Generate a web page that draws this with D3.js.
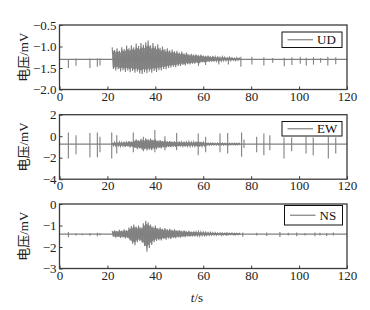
<!DOCTYPE html>
<html>
<head>
<meta charset="utf-8">
<script src="https://cdn.jsdelivr.net/npm/d3@7"></script>
<style>
  body { margin: 0; background: #fff; }
  svg text { font-family: "Liberation Serif", "Times New Roman", "Noto Sans CJK SC", serif; }
</style>
</head>
<body>
<svg id="chart" width="370" height="310"></svg>
<script>
// time axis
const xTicks = [0, 20, 40, 60, 80, 100, 120];
const burstTimes = d3.range(22, 76);   // 22 .. 75 s, one sample per second

// UD channel
const udBase = -1.3;
const udTicks = [-2.0, -1.5, -1.0, -0.5];
const udUpper = [-1.02, -1.08, -1.04, -1.10, -1.02, -1.06, -0.98, -1.04, -0.97, -1.02,
  -0.93, -0.99, -0.92, -0.96, -0.90, -0.86, -0.97, -0.92, -0.99, -0.95,
  -1.03, -1.00, -1.06, -1.04, -1.09, -1.07, -1.11, -1.10, -1.14, -1.12,
  -1.16, -1.14, -1.18, -1.17, -1.19, -1.18, -1.20, -1.19, -1.21, -1.22,
  -1.21, -1.23, -1.22, -1.24, -1.23, -1.25, -1.24, -1.25, -1.26, -1.25,
  -1.26, -1.27, -1.26, -1.27];
const udLower = [-1.52, -1.56, -1.53, -1.58, -1.55, -1.59, -1.56, -1.60, -1.57, -1.61,
  -1.58, -1.63, -1.64, -1.60, -1.62, -1.58, -1.61, -1.57, -1.59, -1.55,
  -1.56, -1.52, -1.53, -1.50, -1.49, -1.47, -1.48, -1.45, -1.45, -1.43,
  -1.44, -1.41, -1.42, -1.40, -1.40, -1.38, -1.39, -1.37, -1.37, -1.36,
  -1.36, -1.35, -1.35, -1.34, -1.34, -1.34, -1.33, -1.33, -1.33, -1.33,
  -1.32, -1.33, -1.32, -1.32];
const udSpikeT = [3.7, 6.9, 12.7, 15.8, 16.9, 58, 61, 66.5, 70.5, 75.7, 80.3, 85.3, 89,
  93.8, 97, 100.5, 103, 106, 109, 112, 115.3];
const udSpikeTop = [-1.30, -1.28, -1.28, -1.28, -1.28, -1.25, -1.26, -1.27, -1.26, -1.24,
  -1.24, -1.25, -1.27, -1.26, -1.25, -1.24, -1.26, -1.25, -1.27, -1.24, -1.25];
const udSpikeBot = [-1.50, -1.45, -1.50, -1.47, -1.44, -1.45, -1.43, -1.42, -1.42, -1.47,
  -1.42, -1.44, -1.38, -1.46, -1.43, -1.40, -1.44, -1.42, -1.38, -1.44, -1.41];

// EW channel
const ewBase = -0.74;
const ewTicks = [-4, -2, 0, 2];
const ewUpper = [-0.60, -0.56, -0.60, -0.53, -0.58, -0.50, -0.55, -0.45, -0.50, -0.38,
  -0.30, -0.38, -0.25, -0.32, -0.20, -0.28, -0.22, -0.33, -0.30, -0.40,
  -0.36, -0.45, -0.42, -0.48, -0.45, -0.50, -0.47, -0.52, -0.49, -0.53,
  -0.50, -0.54, -0.51, -0.55, -0.52, -0.50, -0.47, -0.52, -0.55, -0.60,
  -0.63, -0.64, -0.63, -0.65, -0.64, -0.65, -0.64, -0.65, -0.66, -0.65,
  -0.66, -0.65, -0.66, -0.66];
const ewLower = [-0.88, -0.92, -0.89, -0.96, -0.92, -0.99, -0.95, -1.04, -1.00, -1.10,
  -1.20, -1.14, -1.25, -1.20, -1.33, -1.25, -1.30, -1.18, -1.20, -1.10,
  -1.14, -1.04, -1.06, -1.00, -1.02, -0.97, -0.99, -0.95, -0.97, -0.94,
  -0.96, -0.93, -0.95, -0.92, -0.94, -0.96, -0.98, -0.94, -0.90, -0.86,
  -0.84, -0.83, -0.84, -0.82, -0.83, -0.82, -0.83, -0.82, -0.82, -0.82,
  -0.81, -0.82, -0.81, -0.81];
const ewSpikeT = [3.7, 6.9, 12.7, 15.8, 16.9, 21.8, 23.9, 30.8, 35, 39.8, 44, 48.9, 57.9,
  61, 67, 70.2, 76, 77, 82.3, 85.3, 87.8, 93.7, 96.9, 102.9, 105.9, 112.2, 115.3];
const ewSpikeTop = [0.35, 0.10, 0.30, 0.35, -0.05, 0.35, 0.10, 0.35, -0.05, 0.57, 0.00, 0.30, 0.26,
  -0.05, 0.26, 0.30, 0.35, -0.30, -0.05, 0.26, 0.10, -0.13, -0.13, -0.05, -0.13, -0.05, -0.13];
const ewSpikeBot = [-2.07, -1.67, -1.95, -1.95, -1.50, -2.07, -1.60, -1.50, -1.40, -1.50, -1.30, -1.30, -1.77,
  -1.50, -1.50, -1.60, -1.90, -1.10, -1.50, -1.77, -1.30, -2.07, -1.40, -1.60, -1.77, -2.07, -1.60];

// NS channel
const nsBase = -1.4;
const nsTicks = [-3, -2, -1, 0];
const nsUpper = [-1.25, -1.22, -1.26, -1.20, -1.24, -1.18, -1.22, -1.10, -1.02, -0.95,
  -1.05, -1.00, -1.08, -0.90, -0.78, -0.85, -0.95, -1.05, -1.00, -1.12,
  -1.08, -1.15, -1.12, -1.18, -1.15, -1.20, -1.18, -1.23, -1.21, -1.25,
  -1.23, -1.27, -1.25, -1.28, -1.27, -1.29, -1.28, -1.30, -1.30, -1.31,
  -1.32, -1.32, -1.33, -1.33, -1.34, -1.34, -1.35, -1.35, -1.35, -1.36,
  -1.35, -1.36, -1.36, -1.36];
const nsLower = [-1.52, -1.56, -1.53, -1.58, -1.55, -1.60, -1.58, -1.70, -1.85, -1.92,
  -1.78, -1.72, -1.80, -1.95, -2.22, -2.05, -1.90, -1.78, -1.72, -1.68,
  -1.70, -1.63, -1.66, -1.60, -1.62, -1.58, -1.59, -1.55, -1.56, -1.53,
  -1.54, -1.51, -1.52, -1.50, -1.50, -1.48, -1.49, -1.47, -1.47, -1.46,
  -1.46, -1.45, -1.45, -1.45, -1.44, -1.44, -1.44, -1.44, -1.43, -1.43,
  -1.43, -1.43, -1.43, -1.43];
const nsSpikeT = [3.7, 6.9, 9.5, 12.7, 15.8, 16.9, 61, 67.7, 69.8, 73.2, 76.5, 82.3, 86.5,
  92, 95.5, 99, 102.5, 106.6, 108.7, 111.5, 114.3];
const nsSpikeTop = [-1.30, -1.36, -1.37, -1.35, -1.34, -1.36, -1.33, -1.34, -1.33, -1.35, -1.33,
  -1.34, -1.33, -1.30, -1.34, -1.33, -1.35, -1.33, -1.34, -1.35, -1.33];
const nsSpikeBot = [-1.55, -1.46, -1.45, -1.48, -1.50, -1.45, -1.47, -1.50, -1.48, -1.46, -1.52,
  -1.47, -1.49, -1.53, -1.47, -1.50, -1.46, -1.50, -1.47, -1.49, -1.46];

const panels = [
  { name: "UD", top: 25, domain: [-2.0, -0.5], ticks: udTicks, fmt: d3.format(".1f"),
    base: udBase, upper: udUpper, lower: udLower,
    spikeT: udSpikeT, spikeTop: udSpikeTop, spikeBot: udSpikeBot,
    legend: { x: 282, y: 32, w: 60, h: 15.5 } },
  { name: "EW", top: 114.7, domain: [-4, 2], ticks: ewTicks, fmt: d3.format("d"),
    base: ewBase, upper: ewUpper, lower: ewLower,
    spikeT: ewSpikeT, spikeTop: ewSpikeTop, spikeBot: ewSpikeBot,
    legend: { x: 282, y: 121.5, w: 60, h: 14.5 } },
  { name: "NS", top: 204, domain: [-3, 0], ticks: nsTicks, fmt: d3.format("d"),
    base: nsBase, upper: nsUpper, lower: nsLower,
    spikeT: nsSpikeT, spikeTop: nsSpikeTop, spikeBot: nsSpikeBot,
    legend: { x: 284.5, y: 205.5, w: 58, h: 19.5 } }
];

const svg = d3.select("#chart");
const left = 59.5, plotW = 287.5, plotH = 64.5;
const sigColor = "#808080";
const frameColor = "#3a3a3a";

const x = d3.scaleLinear().domain([0, 120]).range([0, plotW]);

panels.forEach(p => {
  const g = svg.append("g").attr("transform", "translate(" + left + "," + p.top + ")");
  const y = d3.scaleLinear().domain(p.domain).range([plotH, 0]);

  // baseline trace
  g.append("line")
    .attr("x1", x(0)).attr("x2", x(120))
    .attr("y1", y(p.base)).attr("y2", y(p.base))
    .attr("stroke", sigColor).attr("stroke-width", 1.3);

  // burst body: shaded band between the envelopes
  const env = burstTimes.map((t, i) => ({ t: t, hi: p.upper[i], lo: p.lower[i] }));
  g.append("path")
    .attr("d", d3.area().x(d => x(d.t + 0.25))
      .y0(d => y(d.lo + (p.base - d.lo) * 0.25))
      .y1(d => y(d.hi + (p.base - d.hi) * 0.25))(env))
    .attr("fill", sigColor).attr("opacity", 0.9);

  // burst texture: zigzag between upper and lower envelope samples
  const pts = [];
  burstTimes.forEach((t, i) => {
    pts.push([t, p.upper[i]]);
    pts.push([t + 0.5, p.lower[i]]);
  });
  g.append("path")
    .attr("d", d3.line().x(d => x(d[0])).y(d => y(d[1]))(pts))
    .attr("fill", "none").attr("stroke", sigColor).attr("stroke-width", 1.1);

  // spikes
  g.selectAll(".spike")
    .data(p.spikeT)
    .enter().append("line")
    .attr("class", "spike")
    .attr("x1", d => x(d)).attr("x2", d => x(d))
    .attr("y1", (d, i) => y(p.spikeTop[i]))
    .attr("y2", (d, i) => y(p.spikeBot[i]))
    .attr("stroke", sigColor).attr("stroke-width", 1.1);

  // axes, ticks pointing inward
  const xAxis = g.append("g").attr("transform", "translate(0," + plotH + ")")
    .call(d3.axisBottom(x).tickValues(xTicks).tickSizeInner(-3).tickSizeOuter(0).tickPadding(2));
  const yAxis = g.append("g")
    .call(d3.axisLeft(y).tickValues(p.ticks).tickFormat(p.fmt).tickSizeInner(-3).tickSizeOuter(0).tickPadding(3));
  [xAxis, yAxis].forEach(a => {
    a.select(".domain").remove();
    a.selectAll("line").attr("stroke", frameColor);
    a.selectAll("text").attr("font-size", 13).attr("fill", "#222")
      .style("font-family", "'Liberation Serif', serif");
  });

  // frame
  g.append("rect")
    .attr("x", 0).attr("y", 0).attr("width", plotW).attr("height", plotH)
    .attr("fill", "none").attr("stroke", frameColor).attr("stroke-width", 1.3);

  // legend
  const lg = svg.append("g");
  lg.append("rect")
    .attr("x", p.legend.x).attr("y", p.legend.y)
    .attr("width", p.legend.w).attr("height", p.legend.h)
    .attr("fill", "#fff").attr("stroke", "#111").attr("stroke-width", 1);
  const cy = p.legend.y + p.legend.h / 2;
  lg.append("line")
    .attr("x1", p.legend.x + 5.5).attr("x2", p.legend.x + 31)
    .attr("y1", cy).attr("y2", cy)
    .attr("stroke", sigColor).attr("stroke-width", 1.2);
  lg.append("text")
    .attr("x", p.legend.x + 35).attr("y", cy + 4.5)
    .attr("font-size", 13).attr("fill", "#111")
    .text(p.name);

  // y label
  svg.append("text")
    .attr("transform", "translate(23," + (p.top + plotH / 2) + ") rotate(-90)")
    .attr("text-anchor", "middle")
    .attr("dominant-baseline", "central")
    .attr("font-size", 13).attr("fill", "#222")
    .text("电压/mV");
});

// x label
const xl = svg.append("text")
  .attr("x", 197).attr("y", 302)
  .attr("text-anchor", "middle")
  .attr("font-size", 13).attr("fill", "#222");
xl.append("tspan").attr("font-style", "italic").text("t");
xl.append("tspan").text("/s");
</script>
</body>
</html>
